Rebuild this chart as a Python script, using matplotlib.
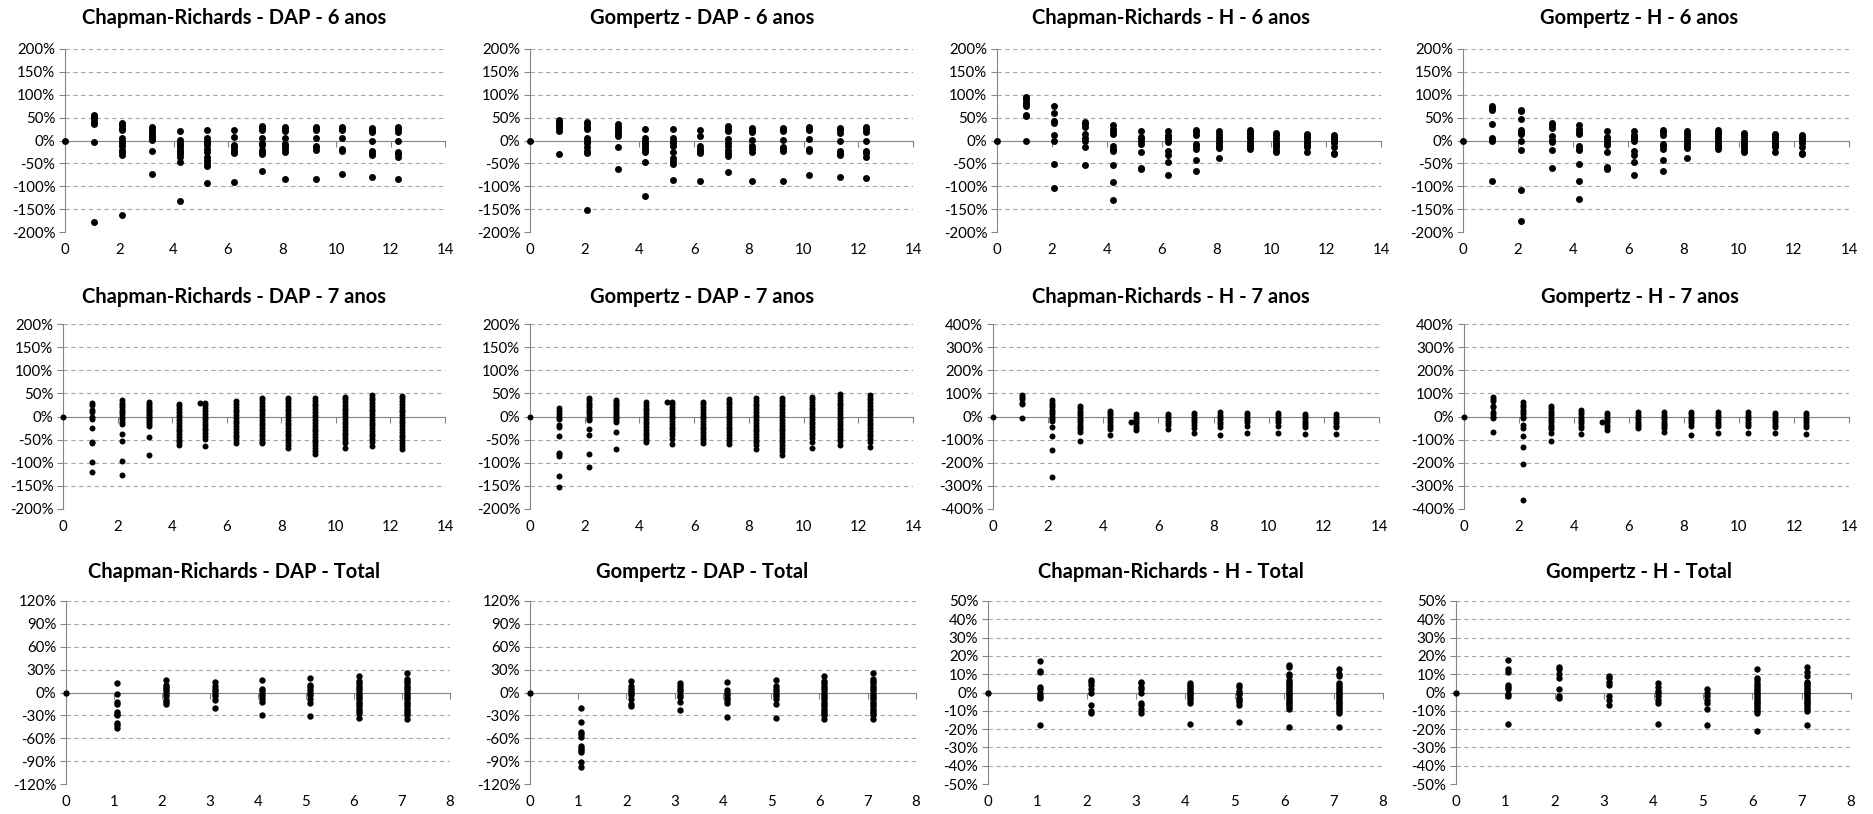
import matplotlib
matplotlib.use("Agg")
import matplotlib.pyplot as plt
from matplotlib.ticker import FuncFormatter

plt.rcParams['font.family'] = ['Lato', 'DejaVu Sans']

# x positions of the columns of points (one list per row of panels)
x_anos6 = [0, 1.06, 2.09, 3.21, 4.22, 5.24, 6.22, 7.25, 8.11, 9.24, 10.19, 11.32, 12.28]
x_anos7 = [0, 1.05, 2.15, 3.16, 4.25, 5.01, 5.2, 6.34, 7.29, 8.25, 9.22, 10.32, 11.32, 12.43]
x_total = [0, 1.06, 2.09, 3.1, 4.09, 5.09, 6.1, 7.11]

# residuals (%) per column
cr_dap_6 = [
    [0],
    [56, 53, 50, 46, 40, 36, -3, -178],
    [38, 33, 27, 22, 5, 0, -5, -12, -20, -25, -32, -163],
    [30, 25, 20, 15, 10, 5, 2, -23, -74],
    [20, 2, -5, -10, -15, -20, -25, -30, -35, -48, -133],
    [23, 5, 0, -5, -10, -18, -25, -35, -42, -50, -56, -92],
    [23, 8, -10, -15, -20, -25, -28, -90],
    [32, 27, 22, 5, -5, -10, -20, -25, -30, -66],
    [30, 25, 20, 5, -8, -12, -18, -25, -84],
    [30, 26, 22, 5, -12, -15, -20, -84],
    [30, 26, 22, 5, -18, -22, -73],
    [28, 22, 18, -1, -23, -27, -31, -79],
    [30, 25, 18, -2, -25, -30, -37, -84],
]
gz_dap_6 = [
    [0],
    [45, 40, 36, 32, 28, 20, -30],
    [40, 35, 30, 25, 5, 0, -5, -15, -22, -27, -153],
    [35, 30, 25, 20, 15, 10, -14, -62],
    [26, 5, 0, -5, -10, -15, -20, -25, -48, -121],
    [26, 5, 0, -5, -12, -25, -38, -45, -51, -87],
    [23, 10, -12, -18, -22, -28, -89],
    [32, 25, 20, 3, -5, -12, -20, -27, -33, -69],
    [28, 23, 18, 2, -12, -18, -25, -88],
    [28, 25, 20, 2, -15, -18, -22, -88],
    [30, 25, 22, 4, -18, -22, -76],
    [28, 22, 17, -1, -22, -27, -31, -79],
    [30, 25, 18, -1, -22, -28, -36, -81],
]
cr_h_6 = [
    [0],
    [95, 90, 85, 80, 75, 55, 53, 0],
    [75, 60, 42, 38, 12, 0, -52, -103],
    [40, 35, 30, 15, 5, 0, -15, -53],
    [33, 25, 18, 15, -12, -18, -22, -53, -90, -130],
    [20, 8, 3, -2, -8, -26, -60, -63],
    [20, 12, 8, 3, -3, -22, -32, -47, -76],
    [22, 18, 12, -8, -12, -18, -42, -67],
    [20, 14, 8, 2, -5, -12, -16, -38],
    [22, 18, 14, 10, 5, 0, -5, -10, -15, -18],
    [17, 12, 5, 0, -5, -10, -15, -20, -25],
    [14, 10, 5, 0, -5, -10, -15, -26],
    [12, 8, 3, 0, -5, -15, -28, -30],
]
gz_h_6 = [
    [0],
    [75, 70, 66, 36, 5, 2, -1, -88],
    [67, 64, 47, 22, 18, 15, 0, -20, -108, -177],
    [38, 33, 28, 10, 2, -3, -20, -60],
    [33, 25, 18, 14, -12, -18, -20, -52, -89, -127],
    [20, 8, 3, -3, -10, -25, -58, -62],
    [20, 12, 8, 3, -2, -22, -32, -46, -75],
    [22, 18, 12, -8, -12, -18, -42, -67],
    [20, 14, 8, 2, -5, -12, -16, -38],
    [22, 18, 14, 10, 5, 0, -5, -10, -15, -18],
    [17, 12, 5, 0, -5, -10, -15, -20, -25],
    [14, 10, 5, 0, -5, -10, -15, -26],
    [12, 8, 3, 0, -5, -15, -27, -29],
]
cr_dap_7 = [
    [0],
    [30, 25, 15, 10, 0, -5, -25, -55, -58, -98, -120],
    [36, 30, 25, 20, 15, 10, 5, 0, -5, -12, -17, -37, -52, -96, -127],
    [31, 27, 23, 19, 15, 11, 7, 3, 0, -4, -8, -12, -16, -20, -45, -84],
    [28, 22, 16, 10, 4, -2, -8, -14, -20, -26, -32, -38, -44, -50, -56, -61],
    [30],
    [30, 24, 18, 12, 6, 0, -6, -12, -18, -24, -30, -36, -42, -48, -63],
    [33, 27, 21, 15, 9, 3, -3, -9, -15, -21, -27, -33, -39, -45, -51, -57],
    [41, 35, 29, 23, 17, 11, 5, -1, -7, -13, -19, -25, -31, -37, -43, -49, -55, -58],
    [41, 35, 29, 23, 17, 11, 5, -1, -7, -13, -19, -25, -31, -37, -43, -49, -55, -61, -68],
    [40, 34, 28, 22, 16, 10, 4, -2, -8, -14, -20, -26, -32, -38, -44, -50, -56, -62, -68, -74, -82],
    [43, 37, 31, 25, 19, 13, 7, 1, -5, -11, -17, -23, -29, -35, -41, -47, -53, -58, -68],
    [47, 41, 35, 29, 23, 17, 11, 5, -1, -7, -13, -19, -25, -31, -37, -43, -49, -55, -63],
    [45, 39, 33, 27, 21, 15, 9, 3, -3, -9, -15, -21, -27, -33, -39, -45, -51, -57, -63, -70],
]
gz_dap_7 = [
    [0],
    [18, 12, 5, 0, -5, -18, -22, -43, -78, -82, -85, -128, -152],
    [40, 35, 30, 25, 20, 15, 10, 5, 0, -5, -8, -27, -40, -81, -109],
    [36, 32, 28, 24, 20, 16, 12, 8, 4, 0, -4, -8, -12, -34, -71],
    [31, 25, 19, 13, 7, 1, -5, -11, -17, -23, -29, -35, -41, -47, -50, -55],
    [32],
    [32, 26, 20, 14, 8, 2, -4, -10, -16, -22, -28, -34, -40, -48, -60],
    [32, 26, 20, 14, 8, 2, -4, -10, -16, -22, -28, -34, -40, -46, -50, -58],
    [38, 32, 26, 20, 14, 8, 2, -4, -10, -16, -22, -28, -34, -40, -46, -52, -60],
    [40, 34, 28, 22, 16, 10, 4, -2, -8, -14, -20, -26, -32, -38, -44, -50, -56, -62, -70],
    [40, 34, 28, 22, 16, 10, 4, -2, -8, -14, -20, -26, -32, -38, -44, -50, -56, -62, -68, -74, -83],
    [43, 37, 31, 25, 19, 13, 7, 1, -5, -11, -17, -23, -29, -35, -41, -47, -55, -68],
    [48, 42, 36, 30, 24, 18, 12, 6, 0, -6, -12, -18, -24, -30, -36, -42, -48, -54, -62],
    [47, 41, 35, 29, 23, 17, 11, 5, -1, -7, -13, -19, -25, -31, -37, -43, -49, -55, -65],
]
cr_h_7 = [
    [0],
    [95, 85, 75, 60, 55, -5],
    [70, 60, 50, 40, 30, 20, 10, 0, -10, -20, -45, -85, -143, -262],
    [45, 35, 25, 15, 5, -5, -15, -25, -35, -45, -55, -65, -105],
    [25, 15, 5, -5, -15, -25, -35, -45, -55, -80],
    [-25],
    [10, 0, -10, -20, -30, -40, -50, -60],
    [12, 2, -8, -18, -28, -38, -53],
    [15, 5, -5, -15, -25, -35, -50, -70],
    [18, 8, -2, -12, -22, -32, -45, -78],
    [15, 5, -5, -15, -25, -40, -72],
    [15, 5, -5, -15, -25, -40, -73],
    [12, 2, -8, -18, -28, -38, -45, -76],
    [10, 0, -10, -20, -30, -40, -45, -77],
]
gz_h_7 = [
    [0],
    [85, 75, 65, 45, 40, 20, 10, 0, -5, -68],
    [62, 50, 40, 30, 20, 10, 0, -5, -35, -50, -85, -130, -207, -360],
    [45, 35, 25, 15, 5, -5, -15, -25, -35, -45, -55, -70, -108],
    [30, 20, 10, 0, -10, -20, -30, -40, -50, -75],
    [-22],
    [15, 5, -5, -15, -25, -35, -45, -60],
    [18, 8, -2, -12, -22, -32, -42, -50],
    [18, 8, -2, -12, -22, -32, -42, -48, -68],
    [20, 10, 0, -10, -20, -30, -42, -78],
    [18, 8, -2, -12, -22, -32, -40, -70],
    [18, 8, -2, -12, -22, -32, -40, -70],
    [15, 5, -5, -15, -25, -35, -45, -73],
    [15, 5, -5, -15, -25, -35, -45, -74],
]
cr_dap_tot = [
    [0],
    [12, -2, -12, -15, -25, -28, -30, -40, -43, -46],
    [17, 10, 7, 4, 2, -2, -5, -10, -13, -15],
    [14, 8, 5, 2, -2, -5, -10, -20],
    [16, 5, 2, -2, -5, -8, -12, -29],
    [19, 10, 7, 3, 0, -3, -8, -14, -31],
    [22, 15, 12, 9, 6, 3, 0, -3, -6, -9, -12, -15, -18, -21, -24, -27, -33],
    [25, 18, 15, 12, 9, 6, 3, 0, -3, -6, -9, -12, -15, -18, -21, -24, -27, -30, -35],
]
gz_dap_tot = [
    [0],
    [-20, -39, -52, -55, -58, -70, -73, -76, -78, -91, -98],
    [15, 8, 5, 2, 0, -3, -8, -15, -18],
    [12, 8, 5, 2, -3, -6, -12, -23],
    [14, 3, 0, -3, -7, -10, -14, -32],
    [17, 8, 5, 2, -2, -5, -8, -15, -34],
    [22, 15, 12, 9, 6, 3, 0, -3, -6, -9, -12, -15, -18, -21, -24, -27, -30, -35],
    [25, 18, 15, 12, 9, 6, 3, 0, -3, -6, -9, -12, -15, -18, -21, -24, -27, -30, -35],
]
cr_h_tot = [
    [0],
    [17, 12, 11, 3, 2, 0, -2, -3, -18],
    [7, 6, 4, 2, 0, -7, -10, -11],
    [6, 5, 3, 2, 0, -6, -7, -9, -11],
    [5, 4, 3, 2, 1, 0, -1, -2, -3, -4, -6, -17],
    [4, 3, 1, 0, -1, -3, -4, -5, -7, -16],
    [15, 14, 10, 9, 7, 6, 5, 4, 3, 2, 1, 0, -1, -2, -3, -4, -5, -6, -7, -8, -9, -19],
    [13, 10, 9, 5, 4, 3, 2, 1, 0, -1, -2, -3, -4, -5, -6, -7, -8, -9, -10, -11, -19],
]
gz_h_tot = [
    [0],
    [18, 13, 11, 4, 3, 2, -1, -2, -17],
    [14, 13, 10, 8, 2, -2, -3],
    [9, 8, 6, 4, -2, -4, -7],
    [5, 3, 1, 0, -2, -4, -6, -17],
    [2, 0, -2, -4, -6, -9, -18],
    [13, 8, 7, 5, 4, 3, 2, 1, 0, -1, -2, -3, -4, -5, -6, -7, -8, -9, -10, -11, -21],
    [14, 11, 9, 6, 5, 4, 3, 2, 1, 0, -1, -2, -3, -4, -5, -6, -7, -8, -9, -10, -18],
]

titles = [
    "Chapman-Richards - DAP - 6 anos", "Gompertz - DAP - 6 anos",
    "Chapman-Richards - H - 6 anos", "Gompertz - H - 6 anos",
    "Chapman-Richards - DAP - 7 anos", "Gompertz - DAP - 7 anos",
    "Chapman-Richards - H - 7 anos", "Gompertz - H - 7 anos",
    "Chapman-Richards - DAP - Total", "Gompertz - DAP - Total",
    "Chapman-Richards - H - Total", "Gompertz - H - Total",
]
series = [cr_dap_6, gz_dap_6, cr_h_6, gz_h_6,
          cr_dap_7, gz_dap_7, cr_h_7, gz_h_7,
          cr_dap_tot, gz_dap_tot, cr_h_tot, gz_h_tot]
x_rows = [x_anos6, x_anos7, x_total]
# (y limit, y step) per panel
y_scales = [(200, 50)] * 6 + [(400, 100)] * 2 + [(120, 30)] * 2 + [(50, 10)] * 2

# layout in pixels: left/right per panel, top/bottom per row
W, H = 1874, 814
lefts = [[65, 530, 997, 1463], [63, 530, 993, 1464], [66, 530, 988, 1456]]
rights = [[445, 913, 1381, 1849], [445, 913, 1379, 1849], [450, 916, 1383, 1851]]
tops = [49, 324, 601]
bottoms = [232, 509, 784]
title_y = [18, 297, 572]
msizes = [5.0, 4.3, 4.6]

GRAY = "#868686"
fig = plt.figure(figsize=(W / 100, H / 100), dpi=100)

for i, (title, cols) in enumerate(zip(titles, series)):
    r, c = divmod(i, 4)
    l, rt, t, b = lefts[r][c], rights[r][c], tops[r], bottoms[r]
    ax = fig.add_axes([l / W, 1 - b / H, (rt - l) / W, (b - t) / H])
    xs = x_rows[r]
    for x, col in zip(xs, cols):
        ax.plot([x] * len(col), col, "o", color="black", ms=msizes[r], mew=0,
                clip_on=False, zorder=3)

    ylim, ystep = y_scales[i]
    ax.set_ylim(-ylim, ylim)
    ax.set_yticks(range(-ylim, ylim + 1, ystep))
    ax.yaxis.set_major_formatter(FuncFormatter(lambda v, p: f"{v:.0f}%"))

    xmax, xstep = (8, 1) if r == 2 else (14, 2)
    xticks = list(range(0, xmax + 1, xstep))
    ax.set_xlim(0, xmax)
    ax.set_xticks(xticks)

    ax.set_axisbelow(True)
    ax.grid(axis="y", color="#a6a6a6", linestyle=(0, (4, 3)), linewidth=0.8)
    for s in ("top", "right"):
        ax.spines[s].set_visible(False)
    ax.spines["bottom"].set_position(("data", 0))
    ax.spines["bottom"].set_color(GRAY)
    ax.spines["left"].set_color(GRAY)
    ax.tick_params(axis="x", labelbottom=False, length=4, color=GRAY)
    ax.tick_params(axis="y", length=4, color=GRAY, labelsize=10.8, pad=3)

    # x labels sit under the plot area, not on the zero line
    sec = ax.secondary_xaxis("bottom")
    sec.set_xticks(xticks)
    sec.spines["bottom"].set_visible(False)
    sec.tick_params(length=0, pad=8, labelsize=10.8)

    fig.text((c * 468.5 + 234) / W, 1 - title_y[r] / H, title,
             ha="center", va="center", fontsize=14.5, fontweight="bold")

fig.savefig("out.png", dpi=100, facecolor="white")
